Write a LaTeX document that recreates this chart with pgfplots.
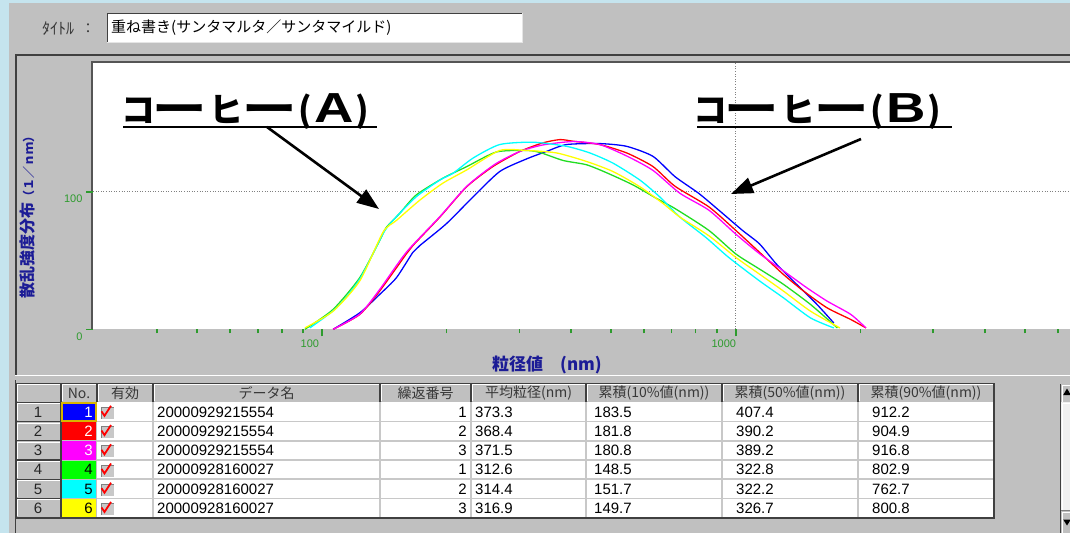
\documentclass[border=0pt]{standalone}
\usepackage{graphicx}
\usepackage{pgfplots}
\pgfplotsset{compat=1.18}
\usetikzlibrary{arrows.meta}
\usepackage{fontspec}
\setmainfont{Liberation Sans}
\newfontfamily\jp{Noto Sans CJK JP}
\definecolor{wingray}{HTML}{C0C0C0}
\definecolor{skyblue}{HTML}{C5E4EE}
\definecolor{panelborder}{HTML}{404040}
\definecolor{axisborder}{HTML}{555555}
\definecolor{labelblue}{HTML}{1C1C96}
\definecolor{tickgreen}{HTML}{2E9B2E}
\definecolor{gridgray}{HTML}{C8C8C8}
\definecolor{hdrtext}{HTML}{383838}
\definecolor{c1}{HTML}{0000FF}
\definecolor{c2}{HTML}{FF0000}
\definecolor{c3}{HTML}{FF00FF}
\definecolor{c4}{HTML}{00FF00}
\definecolor{c5}{HTML}{00FFFF}
\definecolor{c6}{HTML}{FFFF00}
\definecolor{l4}{HTML}{22DD22}
\definecolor{selgold}{HTML}{D8B400}
\newcommand\ann{\jp\bfseries\fontsize{34}{34}\selectfont}
\newcommand\coffee[2]{%
 \begin{scope}[shift={(#1,0)}]
  \node[anchor=base, inner sep=0] at (138,122) {\ann コ};
  \node[anchor=base, inner sep=0] at (179.5,122) {\ann\scalebox{1.6}[1.1]{ー}};
  \node[anchor=base, inner sep=0] at (226.5,122) {\ann ヒ};
  \node[anchor=base, inner sep=0] at (269.5,122) {\ann\scalebox{1.6}[1.1]{ー}};
  \node[anchor=base, inner sep=0] at (305,122) {\ann (};
  \node[anchor=base, inner sep=0] at (334,122) {\bfseries\fontsize{42}{42}\selectfont\scalebox{1.3}[1]{#2}};
  \node[anchor=base, inner sep=0] at (362.5,122) {\ann )};
 \end{scope}}
\begin{document}
\begin{tikzpicture}
\useasboundingbox (0,0) rectangle (1070pt,-533pt);
\begin{scope}[x=1pt,y=-1pt]
 \fill[wingray] (0,0) rectangle (1070,533);
 \fill[skyblue] (0,0) rectangle (9,533);
 \fill[skyblue] (0,0) rectangle (1070,3);
 % title row
 \node[anchor=west, inner sep=0, text=hdrtext] at (42,29) {\jp\fontsize{16}{16}\selectfont ﾀｲﾄﾙ};
 \node[anchor=center, inner sep=0, text=hdrtext] at (88,29) {\jp\fontsize{14}{14}\selectfont ：};
 \fill[white] (107,13) rectangle (522,42);
 \draw[panelborder, line width=1.5pt] (107.5,42) -- (107.5,13.5) -- (522,13.5);
 \draw[white!80!gray, line width=1pt] (107,42.5) -- (522.5,42.5) -- (522.5,13);
 \node[anchor=west, inner sep=0] at (111,28) {\jp\fontsize{15}{15}\selectfont 重ね書き(サンタマルタ／サンタマイルド)};
 % plot panel
 \draw[panelborder, line width=2pt] (15.5,375) -- (15.5,55) -- (1070,55);
 \draw[white, line width=1.2pt] (15,375.6) -- (1070,375.6);
 % plot area
 \fill[white] (93,62) rectangle (1070,329.3);
 \draw[axisborder, line width=2pt] (92,329.3) -- (92,61.5) -- (1070,61.5);
 % axis labels
 \node[rotate=90, text=labelblue, inner sep=0] at (27,214) {\jp\bfseries\fontsize{16}{16}\selectfont 散乱強度分布\fontsize{12}{12}\selectfont （１／ｎｍ）};
 \node[text=labelblue, inner sep=0] at (547,365) {\jp\bfseries\fontsize{17}{17}\selectfont 粒径値　(nm)};
\end{scope}

\begin{axis}[
  at={(93pt,-329.3pt)}, anchor=south west,
  scale only axis, width=977pt, height=267.3pt,
  xmode=log, xmin=28, xmax=6420, ymin=0, ymax=194.3,
  axis x line*=bottom, axis y line*=left,
  axis line style={draw=none},
  every outer x axis line/.append style={draw=none},
  every outer y axis line/.append style={draw=none},
  x axis line style={draw=none}, y axis line style={draw=none},
  tick align=outside,
  xtick={100,1000}, xticklabels={100,1000},
  minor xtick={40,50,60,70,80,90,200,300,400,500,600,700,800,900,2000,3000,4000,5000,6000},
  ytick={0,100}, yticklabels={0,100},
  tick style={draw=tickgreen, line width=1.6pt},
  major tick length=7pt, minor tick length=4pt,
  ticklabel style={font=\fontsize{11}{11}\selectfont, text=tickgreen},
  xticklabel style={xshift=-12pt},
  yticklabel style={yshift=-7pt},
  every axis plot/.append style={line width=1.3pt, smooth, tension=0.4},
  clip=true,
]
\draw[draw=gray, line width=0.9pt, dash pattern=on 1pt off 1.6pt] (axis cs:28,100) -- (axis cs:6420,100);
\draw[draw=gray, line width=0.9pt, dash pattern=on 1pt off 1.6pt] (axis cs:1000,0) -- (axis cs:1000,194.3);
% 1 blue
\addplot[c1] coordinates {
(106.5,0) (123.5,12) (138,25.4) (151.5,37.6) (166,56) (172.5,60.9) (200,76.8) (232,96.3) (269,114.7) (312,123.8) (349,129.3) (390,134.3) (469,135) (545,133) (631,125.7) (713,111) (814,98.8) (910,86.6) (1038,71.9) (1141,62.1) (1253,47.5) (1402,32.8) (1571,18.1) (1725,4.6)};
% 2 red
\addplot[c2] coordinates {
(106.5,0) (123.5,10.8) (138,27.9) (160,54.8) (166,60.9) (193,81.7) (224,103.7) (259,118.3) (301,129.3) (342,135.5) (376,137.9) (405,136.7) (469,134.3) (545,128.2) (631,118.3) (713,104) (861,89) (1000,71.9) (1141,56) (1302,40) (1457,27.9) (1662,15.6) (1897,7.1) (2063,1)};
% 3 magenta
\addplot[c3] coordinates {
(106.5,0) (123.5,11) (138,29) (160,56) (193,82) (224,104) (262,120) (301,129.3) (342,134) (405,136.5) (469,134.3) (545,126) (631,115.5) (732,99) (861,86.6) (1000,69.2) (1141,55) (1302,42.6) (1483,30.3) (1662,20.5) (1897,10.8) (2063,1)};
% 4 green
\addplot[l4] coordinates {
(91,0) (106.5,14.5) (123.5,37.6) (138,64.6) (143,73.9) (154,84.1) (169,97.6) (196,109.8) (224,118.3) (264,128.9) (312,130) (336,128.6) (383,122.7) (436,119.6) (490,113.5) (565,104.9) (643,95.2) (713,87.8) (861,71.9) (1000,54.8) (1141,43.8) (1302,32.8) (1515,18.1) (1760,1)};
% 5 cyan
\addplot[c5] coordinates {
(93.5,1) (108.5,15.6) (123.5,36.5) (140.6,69.5) (148.6,79.2) (169,96.3) (193,108.6) (207.6,113.5) (232,124.5) (269,134.3) (324,136) (390,133) (444,128.2) (505,120.8) (586,108.6) (655,96.3) (732,81.7) (845,67) (961,52.3) (1141,35.2) (1302,23) (1515,8.3) (1725,1)};
% 6 yellow
\addplot[c6] coordinates {
(91,1) (106.5,13.2) (123.5,35.2) (140.6,70.7) (151.5,79.2) (172.5,93.9) (196,106.2) (224,115.9) (269,130) (312,130) (369,128.2) (436,122) (505,114.7) (586,103.7) (667,91.5) (732,81.7) (861,68) (1000,52.3) (1141,40.1) (1302,27.9) (1515,13.2) (1785,1)};
\end{axis}

\begin{scope}[x=1pt,y=-1pt]
 % annotations
 \coffee{0}{A}
 \draw[black, line width=2pt] (123,126.5) -- (377,126.5);
 \draw[black, line width=2.6pt, -{Triangle[length=22pt,width=16pt]}] (267,127) -- (379,209);
 \coffee{572}{B}
 \draw[black, line width=2pt] (697,127) -- (952,127);
 \draw[black, line width=2.6pt, -{Triangle[length=22pt,width=16pt]}] (861,139) -- (731,194);

 % ---------- table ----------
 \draw[panelborder, line width=1.5pt] (15.5,380) -- (15.5,533);
 \foreach \xa/\xb/\txt in {16/61/{}, 61/97/No., 97/153/有効, 153/380/データ名, 380/471/繰返番号, 471/586/平均粒径(nm), 586/722/累積(10\%値(nm)), 722/858/累積(50\%値(nm)), 858/994/累積(90\%値(nm))}{
   \fill[wingray] (\xa,383.3) rectangle (\xb,402.3);
   \draw[white, line width=1pt] (\xa+1.5,401) -- (\xa+1.5,384.8) -- (\xb-1,384.8);
   \draw[panelborder, line width=1.2pt] (\xa,383.3) rectangle (\xb,402.3);
   \node[inner sep=0, text=hdrtext] at ({(\xa+\xb)/2},393) {\jp\fontsize{14}{14}\selectfont \txt};
 }
 \fill[white] (97,402.3) rectangle (994,517.7);
 \foreach \k in {1,...,6}{
   \pgfmathsetmacro{\t}{402.3+(\k-1)*19.23}
   \draw[gridgray, line width=1.5pt] (97,\t+19.23) -- (994,\t+19.23);
 }
 \foreach \xv in {153,380,471,586,722,858}{
   \draw[gridgray, line width=1.5pt] (\xv,402.3) -- (\xv,517.7);
 }
 \foreach \i/\fc/\tc/\nm/\rp/\av/\pa/\pb/\pc in {
   1/c1/white/20000929215554/1/373.3/183.5/407.4/912.2,
   2/c2/white/20000929215554/2/368.4/181.8/390.2/904.9,
   3/c3/white/20000929215554/3/371.5/180.8/389.2/916.8,
   4/c4/black/20000928160027/1/312.6/148.5/322.8/802.9,
   5/c5/black/20000928160027/2/314.4/151.7/322.2/762.7,
   6/c6/black/20000928160027/3/316.9/149.7/326.7/800.8}{
   \pgfmathsetmacro{\t}{402.3+(\i-1)*19.23}
   \pgfmathsetmacro{\m}{\t+9.8}
   \fill[wingray] (16,\t) rectangle (61,\t+19.23);
   \draw[white, line width=1pt] (17.5,\t+18) -- (17.5,\t+1.5) -- (60,\t+1.5);
   \draw[panelborder, line width=1.2pt] (16,\t) rectangle (61,\t+19.23);
   \node[inner sep=0, text=black!85] at (38,\m) {\fontsize{15}{15}\selectfont \i};
   \fill[\fc] (61.6,\t+0.6) rectangle (96.4,\t+18.8);
   \node[anchor=east, inner sep=0, text=\tc] at (93,\m) {\fontsize{15}{15}\selectfont \i};
   \fill[gridgray] (101,\t+5) rectangle (114,\t+17);
   \draw[gray, line width=0.8pt] (101,\t+17) -- (101,\t+5) -- (114,\t+5);
   \draw[white, line width=0.8pt] (101,\t+17) -- (114,\t+17) -- (114,\t+5);
   \draw[red, line width=1.8pt] (101.5,\t+9) -- (104.5,\t+13.5) -- (111,\t+3.5);
   \node[anchor=west, inner sep=0] at (157,\m) {\fontsize{15}{15}\selectfont \nm};
   \node[anchor=east, inner sep=0] at (467,\m) {\fontsize{15}{15}\selectfont \rp};
   \node[anchor=west, inner sep=0] at (475,\m) {\fontsize{15}{15}\selectfont \av};
   \node[anchor=west, inner sep=0] at (594,\m) {\fontsize{15}{15}\selectfont \pa};
   \node[anchor=west, inner sep=0] at (736,\m) {\fontsize{15}{15}\selectfont \pb};
   \node[anchor=west, inner sep=0] at (872,\m) {\fontsize{15}{15}\selectfont \pc};
 }
 \draw[selgold, line width=1.6pt] (62,403) rectangle (96,421);
 \draw[panelborder, line width=1.5pt] (994,383.3) -- (994,518) -- (15.5,518);
 % scrollbar
 \fill[wingray] (1061,384) rectangle (1070,402);
 \draw[white, line width=1pt] (1062,402) -- (1062,385) -- (1070,385);
 \draw[panelborder, line width=0.8pt] (1061,402) -- (1070,402);
 \fill[black] (1067,388.5) -- (1063.2,395) -- (1070.8,395) -- cycle;
 \fill[white!88!gray] (1061,402) rectangle (1070,511);
 \draw[white, line width=1pt] (1062,510) -- (1062,403.5) -- (1070,403.5);
 \draw[gray, line width=0.8pt] (1061,510.5) -- (1070,510.5);
 \fill[wingray] (1061,511.5) rectangle (1070,533);
 \draw[white, line width=1pt] (1062,533) -- (1062,512.5) -- (1070,512.5);
 \fill[black] (1063.2,519.5) -- (1070.8,519.5) -- (1067,525.5) -- cycle;
 \draw[panelborder, line width=0.8pt] (1060.5,384) -- (1060.5,533);
\end{scope}
\end{tikzpicture}
\end{document}
